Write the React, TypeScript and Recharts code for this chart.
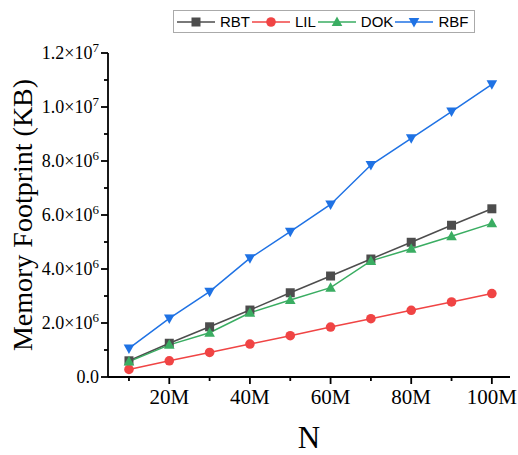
import React from 'react';
import { LineChart, Line, XAxis, YAxis, Legend } from 'recharts';

// N in millions
const nValues = [10, 20, 30, 40, 50, 60, 70, 80, 90, 100];
// memory footprint, in units of 10^6 KB
const rbtValues = [0.6, 1.25, 1.86, 2.48, 3.12, 3.74, 4.37, 4.99, 5.62, 6.23];
const lilValues = [0.28, 0.6, 0.91, 1.22, 1.53, 1.85, 2.16, 2.47, 2.78, 3.09];
const dokValues = [0.57, 1.19, 1.64, 2.38, 2.85, 3.31, 4.3, 4.75, 5.21, 5.69];
const rbfValues = [1.06, 2.17, 3.16, 4.4, 5.38, 6.39, 7.85, 8.84, 9.83, 10.84];

const xTicks = [10, 20, 30, 40, 50, 60, 70, 80, 90, 100];
const yTicks = [0, 1e6, 2e6, 3e6, 4e6, 5e6, 6e6, 7e6, 8e6, 9e6, 1e7, 1.1e7, 1.2e7];

const data = nValues.map((n, i) => ({
    n,
    RBT: rbtValues[i] * 1e6,
    LIL: lilValues[i] * 1e6,
    DOK: dokValues[i] * 1e6,
    RBF: rbfValues[i] * 1e6,
}));

const SERIF = '"Liberation Serif", "Times New Roman", serif';
const SANS = '"Liberation Sans", Arial, sans-serif';

type Shape = 'square' | 'circle' | 'up' | 'down';

const series: { key: string; color: string; shape: Shape }[] = [
    { key: 'RBT', color: '#4d4d4d', shape: 'square' },
    { key: 'LIL', color: '#f04444', shape: 'circle' },
    { key: 'DOK', color: '#3aad62', shape: 'up' },
    { key: 'RBF', color: '#1f72e4', shape: 'down' },
];

const marker = (shape: Shape, cx: number, cy: number, color: string, key?: string) => {
    const r = 4.5;
    if (shape === 'square') {
        return <rect key={key} x={cx - r} y={cy - r} width={r * 2} height={r * 2} fill={color} />;
    }
    if (shape === 'circle') {
        return <circle key={key} cx={cx} cy={cy} r={r + 0.3} fill={color} />;
    }
    if (shape === 'up') {
        return (
            <path
                key={key}
                d={`M${cx},${cy - r - 1} L${cx + r + 0.8},${cy + r - 0.5} L${cx - r - 0.8},${cy + r - 0.5} Z`}
                fill={color}
            />
        );
    }
    return (
        <path
            key={key}
            d={`M${cx},${cy + r + 1} L${cx + r + 0.8},${cy - r + 0.5} L${cx - r - 0.8},${cy - r + 0.5} Z`}
            fill={color}
        />
    );
};

const YTick = (props: any) => {
    const { x, y, payload } = props;
    const v = payload.value;
    const major = Math.round(v / 1e6) % 2 === 0;
    if (!major) {
        return <line x1={x} x2={x - 4} y1={y} y2={y} stroke="#000" strokeWidth={1.8} />;
    }
    let label: React.ReactNode = '0.0';
    if (v !== 0) {
        const exp = Math.floor(Math.log10(v) + 1e-9);
        const mant = (v / Math.pow(10, exp)).toFixed(1);
        label = (
            <>
                {`${mant}×10`}
                <tspan dy={-7} fontSize={13}>{exp}</tspan>
            </>
        );
    }
    return (
        <g>
            <line x1={x} x2={x - 7} y1={y} y2={y} stroke="#000" strokeWidth={1.8} />
            <text x={x - 9} y={y + 6} textAnchor="end" fontFamily={SERIF} fontSize={18} fill="#000">
                {label}
            </text>
        </g>
    );
};

const XTick = (props: any) => {
    const { x, y, payload } = props;
    const v = payload.value;
    const major = v % 20 === 0;
    if (!major) {
        return <line x1={x} x2={x} y1={y} y2={y + 4} stroke="#000" strokeWidth={1.8} />;
    }
    return (
        <g>
            <line x1={x} x2={x} y1={y} y2={y + 7} stroke="#000" strokeWidth={1.8} />
            <text x={x} y={y + 27} textAnchor="middle" fontFamily={SERIF} fontSize={21} fill="#000">
                {`${v}M`}
            </text>
        </g>
    );
};

const XTitle = (props: any) => {
    const { viewBox } = props;
    return (
        <text
            x={viewBox.x + viewBox.width / 2}
            y={viewBox.y + viewBox.height - 7}
            textAnchor="middle"
            fontFamily={SERIF}
            fontSize={31}
            fill="#000"
        >
            N
        </text>
    );
};

const YTitle = (props: any) => {
    const { viewBox } = props;
    const x = viewBox.x + 32;
    const y = viewBox.y + viewBox.height / 2;
    return (
        <text
            x={x}
            y={y}
            transform={`rotate(-90, ${x}, ${y})`}
            textAnchor="middle"
            fontFamily={SERIF}
            fontSize={28}
            fill="#000"
        >
            Memory Footprint (KB)
        </text>
    );
};

const renderLegend = () => (
    <div
        style={{
            display: 'flex',
            alignItems: 'center',
            boxSizing: 'border-box',
            width: 302,
            height: 23,
            border: '1px solid #aaa',
            paddingLeft: 3,
            fontFamily: SANS,
            fontSize: 15,
            color: '#000',
            background: '#fff',
        }}
    >
        {series.map((s) => (
            <div key={s.key} style={{ display: 'flex', alignItems: 'center' }}>
                <svg width={38} height={14} style={{ display: 'block' }}>
                    <line x1={0} x2={38} y1={7} y2={7} stroke={s.color} strokeWidth={1.5} />
                    {marker(s.shape, 19, 7, s.color)}
                </svg>
                <span style={{ marginLeft: 5, marginRight: 2, lineHeight: '15px' }}>{s.key}</span>
            </div>
        ))}
    </div>
);

const App: React.FC = () => (
    <div style={{ position: 'absolute', left: 0, top: 0 }}>
        <LineChart width={518} height={455} data={data} margin={{ top: 53, right: 8, left: 0, bottom: 0 }}>
            <XAxis
                dataKey="n"
                type="number"
                domain={[4.8, 104.5]}
                ticks={xTicks}
                interval={0}
                height={78}
                tickSize={0}
                tickMargin={0}
                tickLine={false}
                tick={<XTick />}
                axisLine={{ stroke: '#000', strokeWidth: 1.8 }}
                label={<XTitle />}
            />
            <XAxis
                xAxisId="top"
                dataKey="n"
                type="number"
                orientation="top"
                domain={[4.8, 104.5]}
                height={0}
                tick={false}
                tickLine={false}
                axisLine={{ stroke: '#000', strokeWidth: 1.8 }}
            />
            <YAxis
                type="number"
                domain={[0, 1.2e7]}
                ticks={yTicks}
                interval={0}
                width={108}
                tickSize={0}
                tickMargin={0}
                tickLine={false}
                tick={<YTick />}
                axisLine={{ stroke: '#000', strokeWidth: 1.8 }}
                label={<YTitle />}
            />
            <YAxis
                yAxisId="right"
                orientation="right"
                type="number"
                domain={[0, 1.2e7]}
                width={0}
                tick={false}
                tickLine={false}
                axisLine={{ stroke: '#000', strokeWidth: 1.8 }}
            />
            <Legend
                layout="horizontal"
                verticalAlign="middle"
                align="center"
                wrapperStyle={{ position: 'absolute', top: 10, left: 173, width: 302, height: 23 }}
                content={renderLegend}
            />
            {series.map((s) => (
                <Line
                    key={s.key}
                    dataKey={s.key}
                    stroke={s.color}
                    strokeWidth={1.5}
                    isAnimationActive={false}
                    dot={(p: any) => marker(s.shape, p.cx, p.cy, s.color, `${s.key}-${p.index}`)}
                    activeDot={false}
                />
            ))}
        </LineChart>
    </div>
);

export default App;
